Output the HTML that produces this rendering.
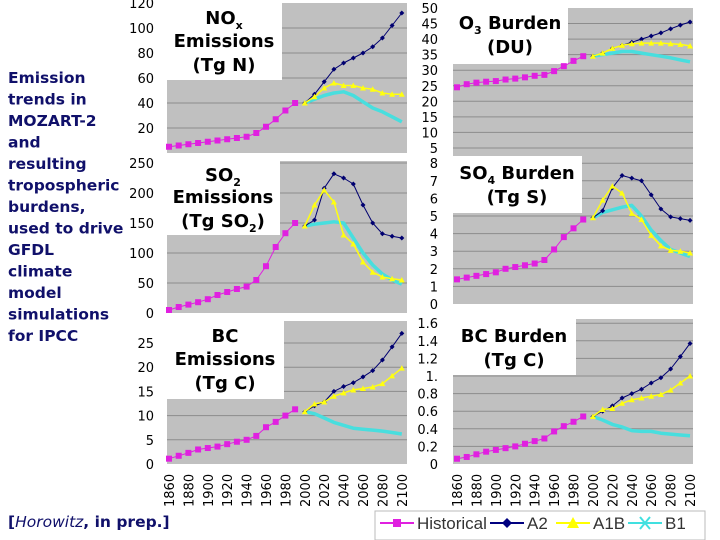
<!DOCTYPE html>
<html><head><meta charset="utf-8"><style>
body{margin:0;background:#fff;}
svg{display:block;font-family:"DejaVu Sans","Liberation Sans",sans-serif;}
</style></head><body>
<svg id="c" width="720" height="540" viewBox="0 0 720 540">
<text font-weight="bold" font-size="15.5" fill="#10106a">
<tspan x="8" y="83">Emission</tspan><tspan x="8" y="104.5">trends in</tspan><tspan x="8" y="126">MOZART-2</tspan><tspan x="8" y="147.5">and</tspan><tspan x="8" y="169">resulting</tspan><tspan x="8" y="190.5">tropospheric</tspan><tspan x="8" y="212">burdens,</tspan><tspan x="8" y="233.5">used to drive</tspan><tspan x="8" y="255">GFDL</tspan><tspan x="8" y="276.5">climate</tspan><tspan x="8" y="298">model</tspan><tspan x="8" y="319.5">simulations</tspan><tspan x="8" y="341">for IPCC</tspan>
</text>
<text x="8" y="527" font-weight="bold" font-size="15.5" fill="#10106a">[<tspan font-style="italic" font-weight="normal">Horowitz</tspan>, in prep.]</text>
<g id="legend" font-family="Liberation Sans, sans-serif" font-size="17" fill="#333">
<rect x="375" y="511" width="330" height="29" fill="#fff" stroke="#bbb"/>
<g><line x1="380" y1="523" x2="414" y2="523" stroke="#e020e0" stroke-width="2"/><rect x="393" y="519" width="8" height="8" fill="#e020e0"/><text x="417" y="529">Historical</text></g>
<g><line x1="490" y1="523" x2="524" y2="523" stroke="#000080" stroke-width="2"/><path d="M507 518 L512 523 L507 528 L502 523Z" fill="#000080"/><text x="527" y="529">A2</text></g>
<g><line x1="556" y1="523" x2="590" y2="523" stroke="#ffff00" stroke-width="2"/><path d="M573 517 L579 528 L567 528Z" fill="#ffff00"/><text x="593" y="529">A1B</text></g>
<g><line x1="628" y1="523" x2="662" y2="523" stroke="#40e0e0" stroke-width="2"/><path d="M640 517 L650 529 M650 517 L640 529" stroke="#40e0e0" stroke-width="2"/><text x="665" y="529">B1</text></g>
</g>
</svg>
<script>
// ---- data ----
const histYears = [1860,1870,1880,1890,1900,1910,1920,1930,1940,1950,1960,1970,1980,1990];
const futYears = [2000,2010,2020,2030,2040,2050,2060,2070,2080,2090,2100];
const xTickLabels = ['1860','1880','1900','1920','1940','1960','1980','2000','2020','2040','2060','2080','2100'];

const noxHist = [5,6,7,8,9,10,11,12,13,16,21,27,34,40];
const noxA2 = [40,47,57,67,72,76,80,85,92,102,112];
const noxA1B = [40,45,52,56,54,54,52,51,48,47,47];
const noxB1 = [40,43,46,48,49,46,41,36,33,29,25];
const noxTicks = ['120','100','80','60','40','20'];

const so2Hist = [5,10,14,18,23,30,35,40,44,55,78,110,133,150];
const so2A2 = [145,155,208,232,225,215,180,150,132,128,125];
const so2A1B = [145,180,205,185,130,115,85,68,60,57,55];
const so2B1 = [145,148,150,152,150,125,100,80,65,55,48];
const so2Ticks = ['250','200','150','100','50','0'];

const bcHist = [1.1,1.7,2.3,3,3.3,3.6,4.1,4.6,5,5.8,7.6,8.7,10,11.3];
const bcA2 = [10.8,12,12.8,15,16,16.8,18,19.3,21.5,24.2,27];
const bcA1B = [10.8,12.4,12.8,14,14.7,15.3,15.6,15.9,16.6,18.2,19.8];
const bcB1 = [10.8,10.4,9.5,8.6,8,7.4,7.2,7,6.8,6.5,6.2];
const bcTicks = ['25','20','15','10','5','0'];

const o3Hist = [24.5,25.5,26,26.3,26.5,27,27.3,27.7,28.2,28.5,29.7,31.3,33,34.5];
const o3A2 = [34.5,35.5,37,38,39,40,41,42,43.3,44.5,45.5];
const o3A1B = [34.5,35.5,37,38,38.5,38.7,38.7,38.7,38.5,38.3,37.8];
const o3B1 = [34.5,35,35.5,36,36,35.5,35,34.5,34,33.3,32.7];
const o3Ticks = ['50','45','40','35','30','25','20','15','10','5'];

const so4Hist = [1.4,1.5,1.6,1.7,1.8,2,2.1,2.2,2.3,2.5,3.1,3.8,4.3,4.8];
const so4A2 = [4.9,5.3,6.6,7.3,7.15,7,6.2,5.4,4.95,4.85,4.75];
const so4A1B = [4.9,5.9,6.7,6.3,5.15,4.8,3.9,3.3,3.05,3.0,2.9];
const so4B1 = [4.9,5.2,5.35,5.5,5.6,5.0,4.2,3.6,3.1,2.9,2.7];
const so4Ticks = ['8','7','6','5','4','3','2','1','0'];

const bcbHist = [0.06,0.08,0.11,0.14,0.16,0.18,0.2,0.23,0.26,0.29,0.37,0.43,0.48,0.54];
const bcbA2 = [0.54,0.6,0.66,0.75,0.8,0.85,0.92,0.98,1.08,1.22,1.37];
const bcbA1B = [0.54,0.62,0.63,0.69,0.73,0.75,0.77,0.79,0.84,0.92,1.0];
const bcbB1 = [0.54,0.5,0.45,0.42,0.38,0.37,0.37,0.35,0.34,0.33,0.32];
const bcbTicks = ['1.6','1.4','1.2','1.','0.8','0.6','0.4','0.2','0'];

const NS='http://www.w3.org/2000/svg';
const svg=document.getElementById('c');
function mk(t,a,p){const e=document.createElementNS(NS,t);for(const k in a)e.setAttribute(k,a[k]);(p||svg).appendChild(e);return e;}

function panel(cfg){
  const g=mk('g',{});
  
  
  const X=yr=>cfg.xa+(yr-1860)*cfg.xk;
  const Y=v=>cfg.y0-v*cfg.yk;
  mk('rect',{x:cfg.left,y:cfg.top,width:cfg.right-cfg.left,height:cfg.y0-cfg.top,fill:'#c0c0c0'},g);
  for(let v=cfg.step;Y(v)>cfg.top+1;v+=cfg.step){
    const gl=mk('line',{x1:cfg.left,x2:cfg.right,y1:Y(v),y2:Y(v),stroke:'#8c8c8c','stroke-width':1},g);
    
    
  }
  const tl=mk('g',{'font-size':cfg.fs||13,'text-anchor':'end',fill:'#000'},g);
  
  
  cfg.ticks.forEach(s=>{const v=parseFloat(s);mk('text',{x:cfg.tx,y:Y(v)+5},tl).textContent=s;});
  // title box
  const tb=mk('rect',{x:cfg.left,y:cfg.top-3,width:cfg.bw,height:cfg.bh,fill:'#fff'},g);
  
  
  const tt=mk('text',{x:cfg.left+cfg.bw/2,'text-anchor':'middle','font-weight':'bold','font-size':cfg.tfs||18,fill:'#000'},g);
  
  
  tt.innerHTML=cfg.title;
  function series(vals,yrs,color,w,marker,nm){
    const sg=mk('g',{},g);
    
    
    const pts=vals.map((v,i)=>X(yrs[i]).toFixed(1)+','+Y(v).toFixed(1)).join(' ');
    mk('polyline',{points:pts,fill:'none',stroke:color,'stroke-width':w,'stroke-linejoin':'round'},sg);
    vals.forEach((v,i)=>{const x=X(yrs[i]),y=Y(v);
      if(marker==='sq')mk('rect',{x:x-3,y:y-3,width:6,height:6,fill:color},sg);
      else if(marker==='di')mk('path',{d:`M${x} ${y-2.5}L${x+2.5} ${y}L${x} ${y+2.5}L${x-2.5} ${y}Z`,fill:color},sg);
      else if(marker==='tr')mk('path',{d:`M${x} ${y-3}L${x+3} ${y+2.5}L${x-3} ${y+2.5}Z`,fill:color},sg);
    });
  }
  series(cfg.b1,futYears,'#48dede',3.5,null,'series-b1');
  series(cfg.a2,futYears,'#000070',1,'di','series-a2');
  series(cfg.a1b,futYears,'#ffff10',1.5,'tr','series-a1b');
  series(cfg.hist,histYears,'#e020e0',1,'sq','series-historical');
  if(cfg.xlabels){
    const xl=mk('g',{'font-size':13,fill:'#000'},g);
    
    
    xTickLabels.forEach(s=>{const x=X(+s)+5;const t=mk('text',{x:0,y:0,transform:`translate(${x},507) rotate(-90)`},xl);t.textContent=s;});
  }
}
const L={left:167,right:407,xa:169,xk:0.97,tx:154};
const R={left:453,right:693,xa:457,xk:0.971,tx:438};
panel(Object.assign({},L,{name:'nox-emissions-panel',top:3,y0:153,yk:1.25,step:20,ticks:noxTicks,hist:noxHist,a2:noxA2,a1b:noxA1B,b1:noxB1,bw:115,bh:80,
 title:'<tspan x="224" y="24">NO<tspan font-size="11" dy="5">x</tspan></tspan><tspan x="224" y="47">Emissions</tspan><tspan x="224" y="71">(Tg N)</tspan>'}));
panel(Object.assign({},L,{name:'so2-emissions-panel',top:161,y0:313,yk:0.6,step:50,ticks:so2Ticks,hist:so2Hist,a2:so2A2,a1b:so2A1B,b1:so2B1,bw:113,bh:77,
 title:'<tspan x="223" y="181">SO<tspan font-size="11" dy="5">2</tspan></tspan><tspan x="223" y="203">Emissions</tspan><tspan x="223" y="227">(Tg SO<tspan font-size="11" dy="5">2</tspan><tspan dy="-5">)</tspan></tspan>'}));
panel(Object.assign({},L,{name:'bc-emissions-panel',top:321,y0:464,yk:4.84,step:5,ticks:bcTicks,hist:bcHist,a2:bcA2,a1b:bcA1B,b1:bcB1,bw:117,bh:81,xlabels:true,
 title:'<tspan x="225" y="342">BC</tspan><tspan x="225" y="365">Emissions</tspan><tspan x="225" y="389">(Tg C)</tspan>'}));
panel(Object.assign({},R,{name:'o3-burden-panel',top:8,y0:163.5,yk:3.11,step:5,ticks:o3Ticks,hist:o3Hist,a2:o3A2,a1b:o3A1B,b1:o3B1,bw:115,bh:59,
 title:'<tspan x="510" y="29">O<tspan font-size="11" dy="5">3</tspan><tspan dy="-5"> Burden</tspan></tspan><tspan x="510" y="53">(DU)</tspan>'}));
panel(Object.assign({},R,{name:'so4-burden-panel',top:159,y0:304,yk:17.6,step:1,ticks:so4Ticks,hist:so4Hist,a2:so4A2,a1b:so4A1B,b1:so4B1,bw:129,bh:57,
 title:'<tspan x="517" y="179">SO<tspan font-size="11" dy="5">4</tspan><tspan dy="-5"> Burden</tspan></tspan><tspan x="517" y="203">(Tg S)</tspan>'}));
panel(Object.assign({},R,{name:'bc-burden-panel',top:319,y0:464,yk:88,step:0.2,ticks:bcbTicks,hist:bcbHist,a2:bcbA2,a1b:bcbA1B,b1:bcbB1,bw:123,bh:59,xlabels:true,
 title:'<tspan x="514" y="342">BC Burden</tspan><tspan x="514" y="366">(Tg C)</tspan>'}));
svg.appendChild(document.getElementById('legend'));
</script>
</body></html>
